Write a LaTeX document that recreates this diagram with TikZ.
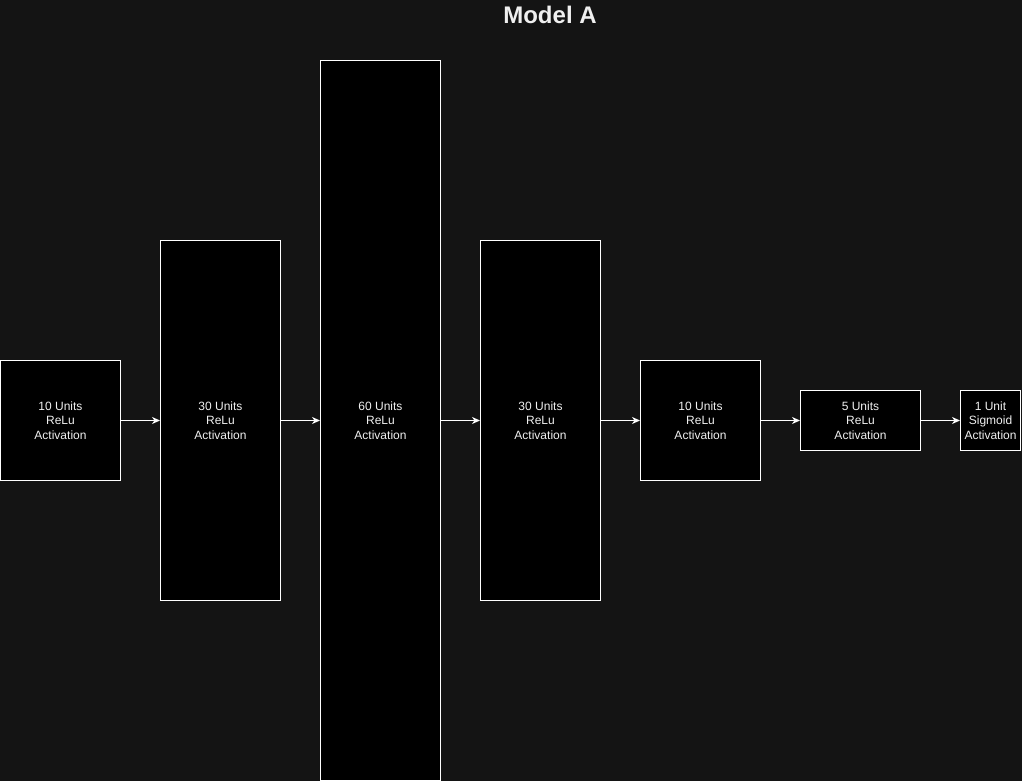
\documentclass[tikz,border=0pt]{standalone}
\usepackage{fontspec}
\setmainfont{Liberation Sans}
\usetikzlibrary{shapes,arrows.meta}

\definecolor{bgcol}{HTML}{141414}
\definecolor{txtcol}{HTML}{F0F0F0}

\tikzset{
  layer/.style={draw=white, fill=black, line width=1pt, inner sep=0pt,
    text=txtcol, align=center, minimum width=120pt,
    font=\fontsize{12}{14.5}\selectfont},
  link/.style={draw=white, line width=1pt,
    -{Stealth[length=8pt,width=7pt,inset=2.5pt]}}
}

\begin{document}
\begin{tikzpicture}[x=1pt,y=-1pt]
          \fill[bgcol] (0,0) rectangle (1022,781);
          \useasboundingbox (0,0) rectangle (1022,781);
          \node[font=\bfseries\fontsize{24}{28}\selectfont, text=txtcol] (title) at (550,15) {Model A};
          \node[layer, minimum height=120pt] (in) at (60.5,420.5) {10 Units\\ReLu\\Activation};
          \node[layer, minimum height=360pt] (h1) at (220.5,420.5) {30 Units\\ReLu\\Activation};
          \node[layer, minimum height=720pt] (h2) at (380.5,420.5) {60 Units\\ReLu\\Activation};
          \node[layer, minimum height=360pt] (h3) at (540.5,420.5) {30 Units\\ReLu\\Activation};
          \node[layer, minimum height=120pt] (h4) at (700.5,420.5) {10 Units\\ReLu\\Activation};
          \node[layer, minimum height=60pt] (h5) at (860.5,420.5) {5 Units\\ReLu\\Activation};
          \node[layer, minimum height=60pt, minimum width=60pt] (out) at (990.5,420.5) {1 Unit\\Sigmoid\\Activation};
          \draw[link] (in) -- (h1);
          \draw[link] (h1) -- (h2);
          \draw[link] (h2) -- (h3);
          \draw[link] (h3) -- (h4);
          \draw[link] (h4) -- (h5);
          \draw[link] (h5) -- (out);
        \end{tikzpicture}
\end{document}
